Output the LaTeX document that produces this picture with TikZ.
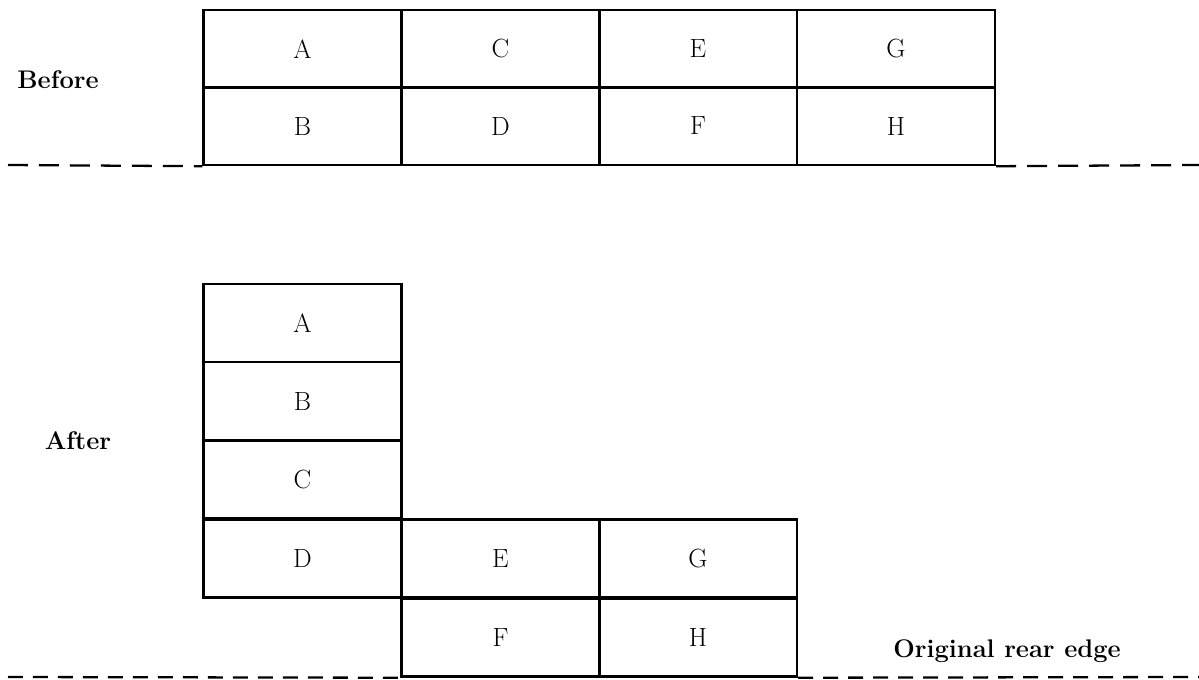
\documentclass[tikz,border=0pt]{standalone}
\usepackage{tikz}
\usetikzlibrary{positioning, calc}
\tikzstyle{cell}  = [rectangle, draw=black, line width=1.4pt, minimum width=3.96cm,
                     minimum height=1.56cm, inner sep=0pt, text centered,
                     font=\fontsize{15}{17}\selectfont]
\tikzstyle{lbl}   = [font=\fontsize{14.5}{17}\selectfont\bfseries]
\tikzstyle{edge}  = [line width=1.3pt, dash pattern=on 0.4cm off 0.22cm]

\begin{document}
\begin{tikzpicture}[x=0.02cm, y=-0.02cm]
  \useasboundingbox (0,0) rectangle (1199,679);

  % --- Before ---
  \node[lbl] (before) at (58,80) {Before};
  \node[cell] (b1) at (302.5,49)  {A};
  \node[cell] (b2) at (302.5,126) {B};
  \node[cell] (b3) at (500.5,49)  {C};
  \node[cell] (b4) at (500.5,126) {D};
  \node[cell] (b5) at (698,49)    {E};
  \node[cell] (b6) at (698,126)   {F};
  \node[cell] (b7) at (896,49)    {G};
  \node[cell] (b8) at (896,126)   {H};

  \coordinate (tl) at (8,165);
  \coordinate (tr) at (1199,165);
  \draw[edge] (tl) -- (b2.south west);
  \draw[edge] (b8.south east) -- (tr);

  % --- After ---
  \node[lbl] (after) at (78,441) {After};
  \node[cell] (a1) at (302.5,323)   {A};
  \node[cell] (a2) at (302.5,401)   {B};
  \node[cell] (a3) at (302.5,479.5) {C};
  \node[cell] (a4) at (302.5,558.5) {D};
  \node[cell] (a5) at (500.5,558.5) {E};
  \node[cell] (a6) at (500.5,637.5) {F};
  \node[cell] (a7) at (698,558.5)   {G};
  \node[cell] (a8) at (698,637.5)   {H};

  \node[lbl] (rear) at (1007,651) {Original rear edge};

  \coordinate (bl) at (8,677);
  \coordinate (br) at (1199,677);
  \draw[edge, dash pattern=on 0.3cm off 0.2cm] (bl) -- (a6.south west);
  \draw[edge, dash pattern=on 0.3cm off 0.2cm] (a8.south east) -- (br);
\end{tikzpicture}
\end{document}
